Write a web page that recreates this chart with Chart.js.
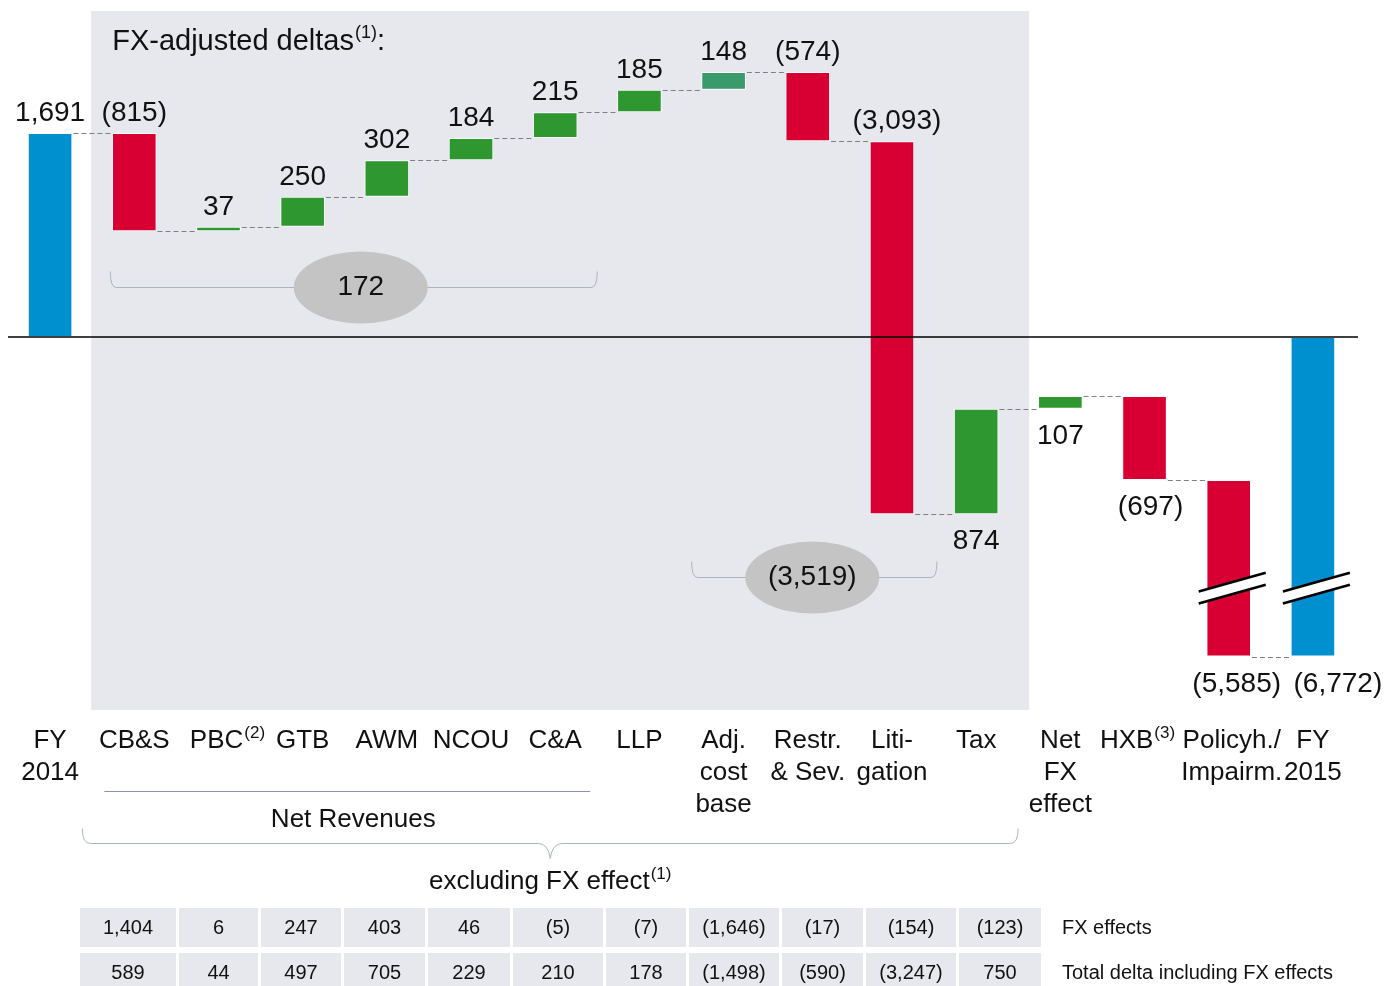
<!DOCTYPE html>
<html>
<head>
<meta charset="utf-8">
<script src="https://cdn.jsdelivr.net/npm/chart.js@4.4.1/dist/chart.umd.min.js"></script>
<style>
  html, body { margin: 0; padding: 0; background: #fff; overflow: hidden; }
  #wrap { position: relative; width: 1386px; height: 986px; }
  #myChart { position: absolute; left: 0; top: 0; }
  #fxTable {
    position: absolute; left: 77px; top: 902px;
    border-collapse: separate; border-spacing: 3px 6px; table-layout: fixed;
    font-family: "Liberation Sans", Arial, sans-serif; font-size: 20px; color: #111;
  }
  #fxTable td { background: #e6e8ee; height: 39px; text-align: center; padding: 0; }
  #fxTable td.lbl { background: none; text-align: left; padding-left: 18px; white-space: nowrap; }
</style>
</head>
<body>
<div id="wrap">
  <canvas id="myChart" width="1386" height="986"></canvas>
  <table id="fxTable"></table>
</div>
<script>
const categories = [
  ['FY', '2014'], ['CB&S'], ['PBC'], ['GTB'], ['AWM'], ['NCOU'], ['C&A'], ['LLP'],
  ['Adj.', 'cost', 'base'], ['Restr.', '& Sev.'], ['Liti-', 'gation'], ['Tax'],
  ['Net', 'FX', 'effect'], ['HXB'], ['Policyh./', 'Impairm.'], ['FY', '2015']
];
const footnotes = ['', '', '(2)', '', '', '', '', '', '', '', '', '', '', '(3)', '', ''];
const deltas = [1691, -815, 37, 250, 302, 184, 215, 185, 148, -574, -3093, 874, 107, -697, -5585, -6772];
const kinds = ['total', 'delta', 'delta', 'delta', 'delta', 'delta', 'delta', 'delta',
  'cost', 'delta', 'delta', 'delta', 'delta', 'delta', 'delta', 'total'];

// subtotals shown in the grey ellipses (first index, last index, value)
const groupFrom = [1, 8];
const groupTo = [6, 10];
const groupValues = [172, -3519];

// table under the chart
const fxEffects = [1404, 6, 247, 403, 46, -5, -7, -1646, -17, -154, -123];
const totalDeltas = [589, 44, 497, 705, 229, 210, 178, -1498, -590, -3247, 750];

const breakFloor = -2650;   // bars below this are cut (broken axis)
const breakMarkAt = -2090;

const colors = { total: '#0090d0', cost: '#3a9a6c', pos: '#2f972f', neg: '#d80032' };
const FONT = '"Liberation Sans", Arial, sans-serif';

function fmt(v) {
  const s = Math.abs(v).toLocaleString('en-US');
  return v < 0 ? '(' + s + ')' : s;
}

// waterfall spans
let running = 0;
const spans = deltas.map((d, i) => {
  if (kinds[i] === 'total') { running = d; return [0, d]; }
  const s = running;
  running += d;
  return [s, running];
});
const shown = spans.map(s => [Math.max(s[0], breakFloor), Math.max(s[1], breakFloor)]);
const barColors = deltas.map((d, i) => {
  if (kinds[i] === 'total') return colors.total;
  if (kinds[i] === 'cost') return colors.cost;
  return d >= 0 ? colors.pos : colors.neg;
});

// table
const tbl = document.getElementById('fxTable');
const colWidths = [96, 79, 80, 81, 82, 90, 80, 90, 81, 90, 82];
const cg = document.createElement('colgroup');
colWidths.forEach(w => { const c = document.createElement('col'); c.style.width = w + 'px'; cg.appendChild(c); });
const lc = document.createElement('col'); lc.style.width = '320px'; cg.appendChild(lc);
tbl.appendChild(cg);
[[fxEffects, 'FX effects'], [totalDeltas, 'Total delta including FX effects']].forEach(([vals, name]) => {
  const tr = document.createElement('tr');
  vals.forEach(v => { const td = document.createElement('td'); td.textContent = fmt(v); tr.appendChild(td); });
  const td = document.createElement('td'); td.className = 'lbl'; td.textContent = name; tr.appendChild(td);
  tbl.appendChild(tr);
});

// draws text with a raised footnote marker; align 'left' or 'center'
function supText(ctx, x, y, main, sup, size, supSize, align) {
  ctx.font = size + 'px ' + FONT;
  const w1 = ctx.measureText(main).width;
  ctx.font = supSize + 'px ' + FONT;
  const w2 = sup ? ctx.measureText(sup).width + 1 : 0;
  const x0 = align === 'center' ? x - (w1 + w2) / 2 : x;
  ctx.textAlign = 'left';
  ctx.textBaseline = 'middle';
  ctx.font = size + 'px ' + FONT;
  ctx.fillText(main, x0, y);
  if (sup) {
    ctx.font = supSize + 'px ' + FONT;
    ctx.fillText(sup, x0 + w1 + 1, y - size * 0.3);
  }
  return x0 + w1 + w2;
}

const labelNudge = { 10: 5, 13: 6, 14: 8, 15: 25 };
const catNudge = { 2: 9, 13: -7, 14: 3 };
const groupPad = [[24, 42], [32, 45]];
const groupShift = [7, -2];
const groupY = [287, 577];

const waterfallPlugin = {
  id: 'waterfall',
  beforeDatasetsDraw(chart) {
    const { ctx, chartArea, scales: { x } } = chart;
    const step = x.getPixelForValue(1) - x.getPixelForValue(0);
    ctx.save();
    ctx.fillStyle = '#e6e8ee';
    const left = x.getPixelForValue(1) - step / 2 - 1;
    const right = x.getPixelForValue(11) + step * 0.63;
    ctx.fillRect(left, chartArea.top, right - left, chartArea.bottom - chartArea.top);
    ctx.fillStyle = '#111';
    const end = supText(ctx, left + 21, 42, 'FX-adjusted deltas', '(1)', 29, 18, 'left');
    ctx.font = '29px ' + FONT;
    ctx.textBaseline = 'middle';
    ctx.fillText(':', end, 42);
    ctx.restore();
  },
  afterDatasetsDraw(chart) {
    const { ctx, chartArea, scales: { x, y } } = chart;
    const meta = chart.getDatasetMeta(0);
    ctx.save();

    // zero line
    ctx.strokeStyle = '#000';
    ctx.lineWidth = 1.5;
    ctx.beginPath();
    ctx.moveTo(chartArea.left, y.getPixelForValue(0));
    ctx.lineTo(chartArea.right + 3, y.getPixelForValue(0));
    ctx.stroke();

    // connectors
    ctx.strokeStyle = '#808080';
    ctx.lineWidth = 1;
    ctx.setLineDash([5, 3]);
    for (let i = 0; i < shown.length - 1; i++) {
      const a = meta.data[i], b = meta.data[i + 1];
      const yy = Math.round(y.getPixelForValue(shown[i][1])) + 0.5;
      ctx.beginPath();
      ctx.moveTo(a.x + a.width / 2 + 1, yy);
      ctx.lineTo(b.x - b.width / 2 - 1, yy);
      ctx.stroke();
    }
    ctx.setLineDash([]);

    // break marks
    spans.forEach((s, i) => {
      if (Math.min(s[0], s[1]) >= breakFloor) return;
      const cx = meta.data[i].x;
      const ym = y.getPixelForValue(breakMarkAt);
      const x0 = cx - 30, x1 = cx + 37, k = 0.28;
      const yu0 = ym - 6 + 30 * k, yu1 = ym - 6 - 37 * k;
      ctx.fillStyle = '#fff';
      ctx.beginPath();
      ctx.moveTo(x0, yu0); ctx.lineTo(x1, yu1); ctx.lineTo(x1, yu1 + 12); ctx.lineTo(x0, yu0 + 12);
      ctx.closePath();
      ctx.fill();
      ctx.strokeStyle = '#000';
      ctx.lineWidth = 2.5;
      ctx.beginPath();
      ctx.moveTo(x0, yu0); ctx.lineTo(x1, yu1);
      ctx.moveTo(x0, yu0 + 12); ctx.lineTo(x1, yu1 + 12);
      ctx.stroke();
    });

    // value labels
    ctx.fillStyle = '#111';
    ctx.font = '28px ' + FONT;
    ctx.textAlign = 'center';
    ctx.textBaseline = 'alphabetic';
    deltas.forEach((d, i) => {
      const cx = meta.data[i].x + (labelNudge[i] || 0);
      const hi = Math.max(shown[i][0], shown[i][1]);
      const lo = Math.min(shown[i][0], shown[i][1]);
      if (hi > 0) ctx.fillText(fmt(d), cx, y.getPixelForValue(hi) - 12);
      else ctx.fillText(fmt(d), cx, y.getPixelForValue(lo) + 35);
    });

    // group brackets with ellipses
    ctx.strokeStyle = '#a9b4c6';
    ctx.lineWidth = 1;
    groupValues.forEach((v, g) => {
      const l = x.getPixelForValue(groupFrom[g]) - groupPad[g][0];
      const r = x.getPixelForValue(groupTo[g]) + groupPad[g][1];
      const by = groupY[g] + 0.5;
      ctx.beginPath();
      ctx.moveTo(l, by - 16);
      ctx.quadraticCurveTo(l, by, l + 6, by);
      ctx.lineTo(r - 6, by);
      ctx.quadraticCurveTo(r, by, r, by - 16);
      ctx.stroke();
      const cx = (l + r) / 2 + groupShift[g];
      ctx.fillStyle = '#c4c4c4';
      ctx.beginPath();
      ctx.ellipse(cx, by, 67, 36, 0, 0, Math.PI * 2);
      ctx.fill();
      ctx.fillStyle = '#111';
      ctx.font = '28px ' + FONT;
      ctx.textAlign = 'center';
      ctx.textBaseline = 'middle';
      ctx.fillText(fmt(v), cx, by);
    });
    ctx.restore();
  },
  afterDraw(chart) {
    const { ctx, scales: { x } } = chart;
    ctx.save();
    ctx.fillStyle = '#111';
    categories.forEach((lines, i) => {
      const cx = x.getPixelForValue(i) + (catNudge[i] || 0);
      lines.forEach((t, j) => {
        supText(ctx, cx, 741 + j * 32, t, j === 0 ? footnotes[i] : '', 26, 17, 'center');
      });
    });

    // Net Revenues underline
    const l1 = x.getPixelForValue(1) - 30, r1 = x.getPixelForValue(6) + 35;
    ctx.strokeStyle = '#8a96a8';
    ctx.lineWidth = 1;
    ctx.beginPath();
    ctx.moveTo(l1, 791.5); ctx.lineTo(r1, 791.5);
    ctx.stroke();
    ctx.font = '26px ' + FONT;
    ctx.textAlign = 'center';
    ctx.textBaseline = 'middle';
    ctx.fillText('Net Revenues', (l1 + r1) / 2 + 6, 820);

    // big brace
    const bl = x.getPixelForValue(1) - 52, br = x.getPixelForValue(11) + 42;
    const bc = (bl + br) / 2, by = 843.5;
    ctx.strokeStyle = '#a9b4c6';
    ctx.beginPath();
    ctx.moveTo(bl, by - 15);
    ctx.quadraticCurveTo(bl, by, bl + 8, by);
    ctx.lineTo(bc - 12, by);
    ctx.quadraticCurveTo(bc - 2, by, bc, by + 15);
    ctx.quadraticCurveTo(bc + 2, by, bc + 12, by);
    ctx.lineTo(br - 8, by);
    ctx.quadraticCurveTo(br, by, br, by - 15);
    ctx.stroke();
    supText(ctx, bc, 882, 'excluding FX effect', '(1)', 26, 17, 'center');
    ctx.restore();
  }
};

const config = {
  type: 'bar',
  data: {
    labels: categories.map(c => c.join(' ')),
    datasets: [{
      data: shown,
      backgroundColor: barColors,
      borderColor: '#ffffff',
      borderWidth: 1,
      borderSkipped: false,
      barPercentage: 0.53,
      categoryPercentage: 1
    }]
  },
  options: {
    responsive: false,
    animation: false,
    layout: { padding: { left: 8, right: 31, top: 11, bottom: 276 } },
    scales: {
      x: { display: false, offset: true },
      y: { display: false, min: -3093, max: 2703 }
    },
    plugins: { legend: { display: false }, tooltip: { enabled: false } }
  },
  plugins: [waterfallPlugin]
};

const myChart = new Chart(document.getElementById('myChart'), config);
</script>
</body>
</html>
